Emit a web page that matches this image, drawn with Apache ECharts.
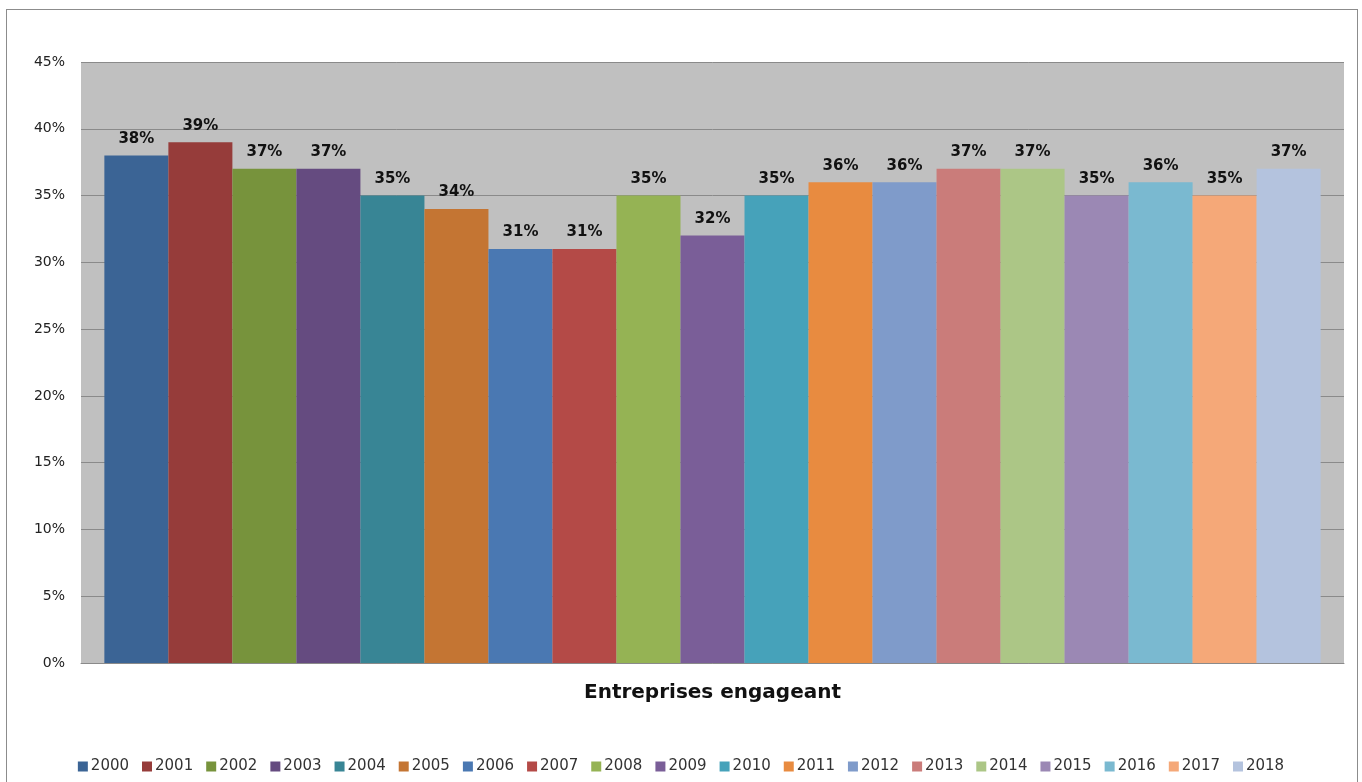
<!DOCTYPE html>
<html><head><meta charset="utf-8">
<script src="https://cdn.jsdelivr.net/npm/echarts@6/dist/echarts.min.js"></script>
<style>
html,body{margin:0;padding:0;background:#fff;overflow:hidden;}
#frame{position:absolute;left:6px;top:9px;width:1352px;height:800px;border:1px solid #8c8c8c;box-sizing:border-box;}
#chart{position:absolute;left:0;top:0;width:1362px;height:782px;}
</style></head>
<body>
<div id="frame"></div>
<div id="chart"></div>
<script>
const categories = ['Entreprises engageant'];
const years = ['2000','2001','2002','2003','2004','2005','2006','2007','2008','2009','2010','2011','2012','2013','2014','2015','2016','2017','2018'];
const values = [38,39,37,37,35,34,31,31,35,32,35,36,36,37,37,35,36,35,37];
const colors = ['#3b6495','#963c3a','#77933c','#654b80','#388595','#c47533','#4a78b2','#b44a47','#95b354','#7a5e98','#46a2ba','#e88b40','#7f9bca','#ca7c7a','#acc686','#9b88b4','#7ab9d0','#f5a878','#b4c3de'];
const yTicks = [0,5,10,15,20,25,30,35,40,45];

const fontFam = '"DejaVu Sans", sans-serif';
const chart = echarts.init(document.getElementById('chart'));
const series = years.map((y,i)=>({
  name: y, type: 'bar', data: [values[i]],
  itemStyle:{color: colors[i]},
  barGap: '0%', barCategoryGap: '3.7%',
  label:{show:true, position:'top', distance:9, formatter: p=>p.value+'%', color:'#111', fontWeight:'bold', fontSize:15, fontFamily:fontFam}
}));
chart.setOption({
  animation:false,
  color: colors,
  grid:{left:81, right:18, top:62, bottom:119, show:true, backgroundColor:'#c0c0c0', borderWidth:0},
  legend:{bottom:3, left:'center', itemWidth:10, itemHeight:10, itemGap:13, icon:'rect',
    textStyle:{fontSize:15, color:'#333', fontFamily:fontFam, padding:[0,0,0,-2]}, data: years},
  xAxis:{type:'category', data:categories,
    axisLine:{show:true, lineStyle:{color:'#8a8a8a'}}, axisTick:{show:false},
    axisLabel:{fontSize:20, fontWeight:'bold', color:'#111', margin:20, fontFamily:fontFam}},
  yAxis:{type:'value', min:yTicks[0], max:yTicks[yTicks.length-1], interval:5,
    axisLine:{show:false}, axisTick:{show:false},
    splitLine:{lineStyle:{color:'#8a8a8a', width:1}},
    axisLabel:{formatter: v=>v+'%', fontSize:14, color:'#222', margin:16, fontFamily:fontFam}},
  series: series
});
</script>
</body></html>
